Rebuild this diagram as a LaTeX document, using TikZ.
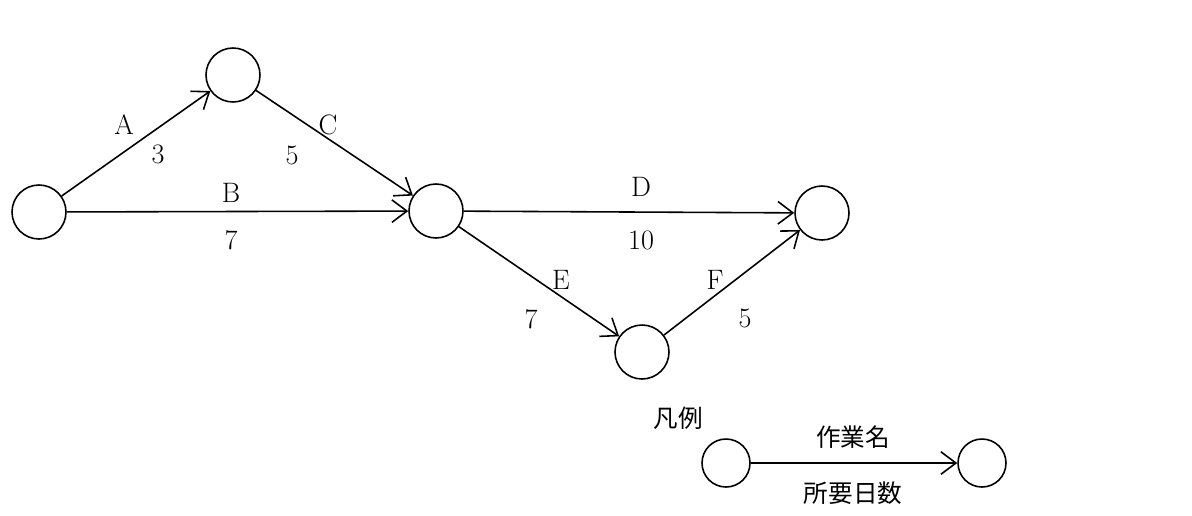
\documentclass[tikz,border=0pt]{standalone}
\usepackage{fontspec}
\newfontfamily\cjk{Noto Sans CJK JP}
\usetikzlibrary{arrows.meta}
\tikzset{
  event/.style={circle, draw, line width=0.9pt, minimum size=1.08cm, inner sep=0pt},
  small event/.style={circle, draw, line width=0.9pt, minimum size=0.96cm, inner sep=0pt},
  act/.style={line width=0.9pt, -{Straight Barb[length=3mm,width=4.5mm,line width=0.9pt]}},
  lbl/.style={font=\fontsize{16}{18}\selectfont},
  jlbl/.style={font=\cjk\fontsize{14}{17}\selectfont}
}
\begin{document}
\begin{tikzpicture}[x=0.02cm,y=-0.02cm]
\useasboundingbox (0,0) rectangle (1192,515);
% events
\node[event] (n1) at (39,212) {};
\node[event] (n2) at (233,75) {};
\node[event] (n3) at (436,211) {};
\node[event] (n4) at (822,213) {};
\node[event] (n5) at (642,352) {};
% activities
\draw[act] (n1) -- (n2);
\draw[act] (n1) -- (n3);
\draw[act] (n2) -- (n3);
\draw[act] (n3) -- (n4);
\draw[act] (n3) -- (n5);
\draw[act] (n5) -- (n4);
\node[lbl] (lA) at (124,125) {A};
\node[lbl] (dA) at (158,154) {3};
\node[lbl] (lB) at (231,193) {B};
\node[lbl] (dB) at (231,240) {7};
\node[lbl] (lC) at (328,125) {C};
\node[lbl] (dC) at (292,155) {5};
\node[lbl] (lD) at (641,187) {D};
\node[lbl] (dD) at (641,240) {10};
\node[lbl] (lE) at (561,280) {E};
\node[lbl] (dE) at (531,319) {7};
\node[lbl] (lF) at (715,280) {F};
\node[lbl] (dF) at (745,318) {5};
% legend
\node[jlbl] (key) at (678,418) {凡例};
\node[small event] (k1) at (726,463) {};
\node[small event] (k2) at (982,463) {};
\draw[act] (k1) -- (k2);
\node[jlbl] (kname) at (853,437) {作業名};
\node[jlbl] (kdays) at (853,493) {所要日数};
\end{tikzpicture}
\end{document}
